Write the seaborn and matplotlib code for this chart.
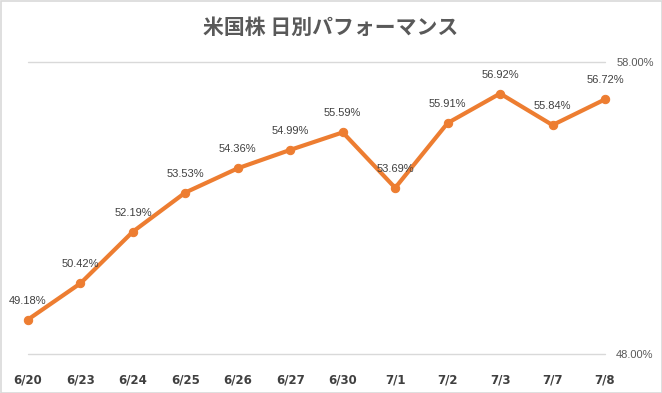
import matplotlib
matplotlib.use("Agg")
import matplotlib.pyplot as plt
import seaborn as sns
import pandas as pd
from matplotlib.patches import Rectangle

dates = ["6/20", "6/23", "6/24", "6/25", "6/26", "6/27", "6/30", "7/1", "7/2", "7/3", "7/7", "7/8"]
perf = [49.18, 50.42, 52.19, 53.53, 54.36, 54.99, 55.59, 53.69, 55.91, 56.92, 55.84, 56.72]
y_ticks = [48.0, 58.0]
title = "米国株 日別パフォーマンス"

sns.set_theme(style="white")
plt.rcParams['font.family'] = ['Noto Sans CJK JP', 'DejaVu Sans']

df = pd.DataFrame({"pos": list(range(len(dates))), "perf": perf})

fig = plt.figure(figsize=(6.62, 3.93), dpi=100)
ax = fig.add_axes([28/662, 1-354/393, (605-28)/662, (354-62)/393])

orange = "#ED7D31"
sns.lineplot(data=df, x="pos", y="perf", ax=ax, color=orange, linewidth=3,
             marker="o", markersize=6, markeredgecolor=orange, markerfacecolor=orange,
             zorder=3, clip_on=False)

lab_font = ["Liberation Sans", "DejaVu Sans"]
for xi, v in zip(df["pos"], perf):
    ax.annotate(f"{v:.2f}%", (xi, v), xytext=(0, 10), textcoords="offset points",
                ha="center", va="bottom", fontsize=8, color="#404040",
                family=lab_font)

ax.set_xlim(0, len(dates) - 1)
ax.set_ylim(48, 58)
ax.set_yticks(y_ticks)
ax.set_yticklabels([f"{t:.2f}%" for t in y_ticks], fontsize=8, color="#595959",
                   family=lab_font)
ax.yaxis.tick_right()
ax.tick_params(axis="y", length=0, pad=8)
ax.set_xticks(df["pos"])
ax.set_xticklabels(dates, fontsize=8.5, color="#404040", fontweight="bold",
                   family=["DejaVu Sans"])
ax.tick_params(axis="x", length=0, pad=14)
ax.set_xlabel("")
ax.set_ylabel("")
for s in ax.spines.values():
    s.set_visible(False)
ax.grid(False)
for t in y_ticks:
    ax.axhline(t, color="#D9D9D9", linewidth=1, zorder=1, clip_on=False)
ax.set_facecolor("none")

fig.text(0.5, 1-27/393, title, ha="center", va="center", fontsize=15,
         color="#595959", fontweight="bold")

fig.patches.append(Rectangle((0.5/662, 0.5/393), 1-1/662, 1-1/393, transform=fig.transFigure,
                             fill=False, edgecolor="#D9D9D9", linewidth=1.2))

fig.savefig("out.png", dpi=100)
